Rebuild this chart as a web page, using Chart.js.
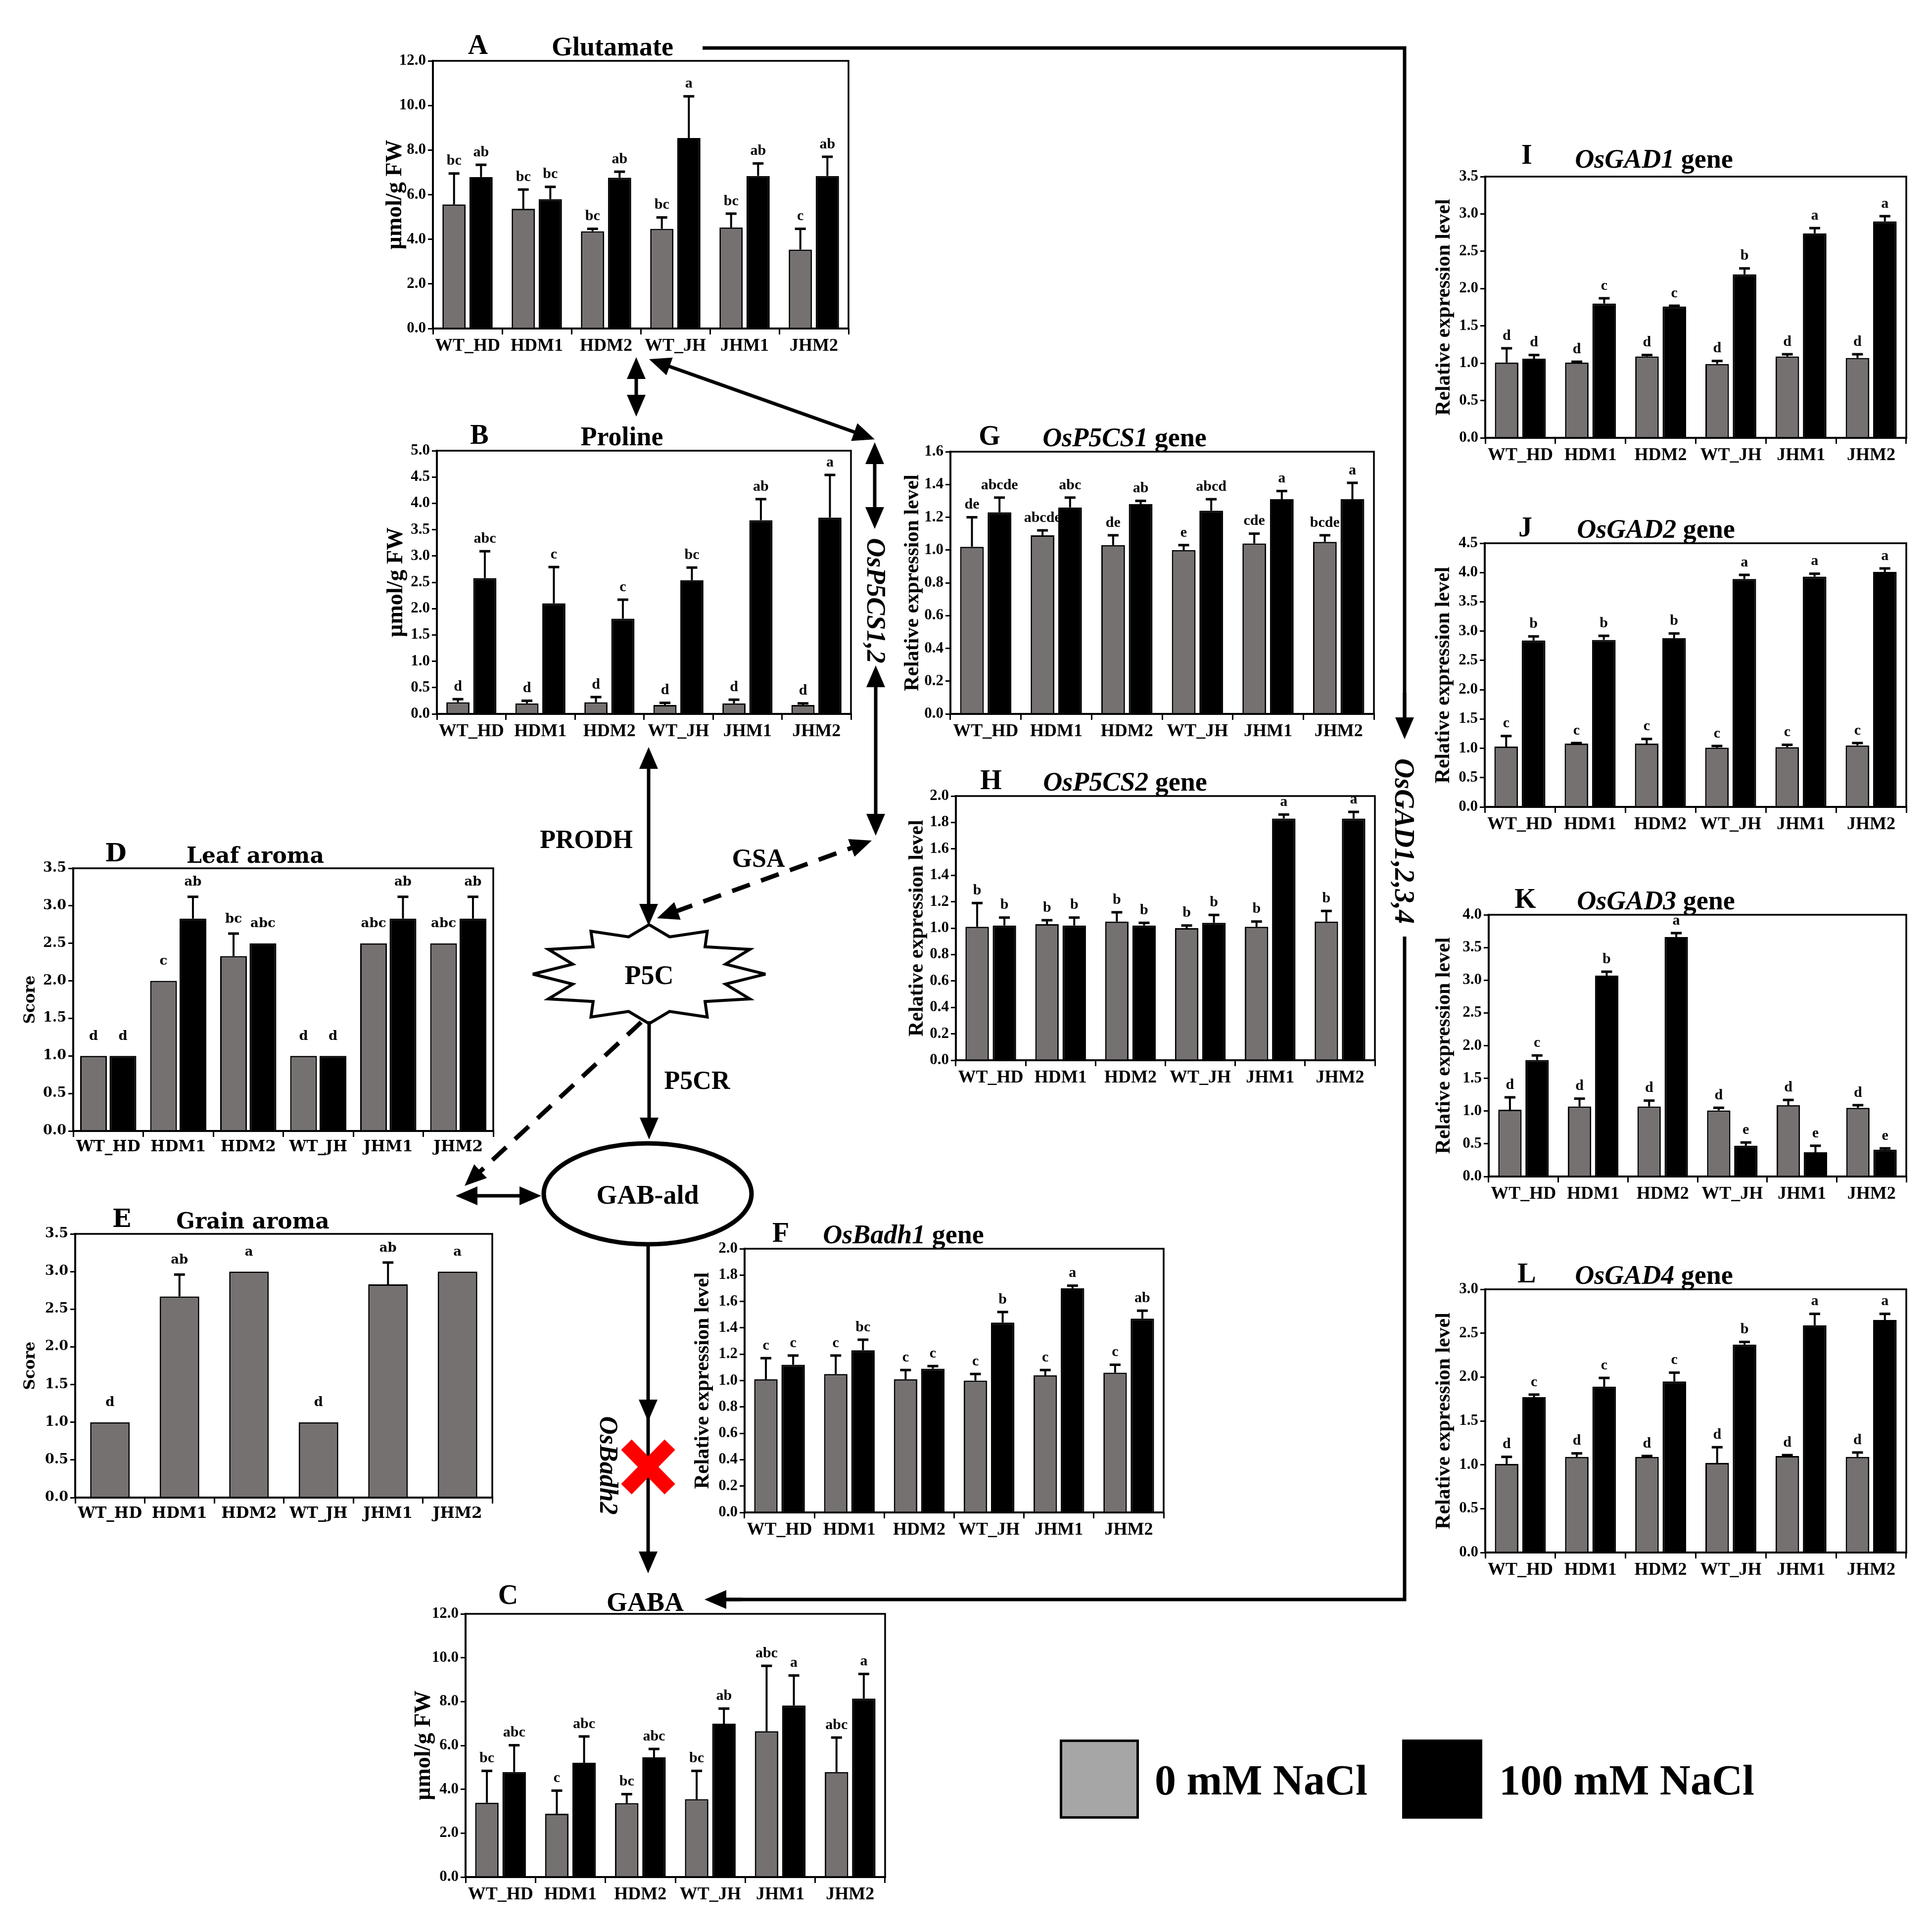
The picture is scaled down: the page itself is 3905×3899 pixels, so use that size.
<!DOCTYPE html>
<html>
<head>
<meta charset="utf-8">
<title>Glutamate / GABA pathway panels</title>
<script src="https://cdn.jsdelivr.net/npm/chart.js@4.4.1/dist/chart.umd.min.js"></script>
<style>
  html, body { margin: 0; padding: 0; background: #fff; }
  #page { position: relative; width: 3905px; height: 3899px; overflow: hidden; background: #fff; }
  #page canvas { position: absolute; }
  #diagram { position: absolute; left: 0; top: 0; }
  .legend-box { position: absolute; box-sizing: border-box; border: 5px solid #000; }
  .legend-text { position: absolute; font: bold 86px "Liberation Serif", serif; line-height: 100px; white-space: nowrap; }
</style>
</head>
<body>
<div id="page">
  <svg id="diagram" width="3905" height="3899" viewBox="0 0 3905 3899" xmlns="http://www.w3.org/2000/svg">
    <defs>
      <marker id="ah" markerUnits="userSpaceOnUse" markerWidth="46" markerHeight="38" refX="30" refY="19" orient="auto-start-reverse">
        <path d="M0,0 L44,19 L0,38 z" fill="#000"/>
      </marker>
    </defs>
  </svg>
  <div class="legend-box" style="left:2142px;top:3516px;width:160px;height:160px;background:#a6a6a6;"></div>
  <div class="legend-text" style="left:2334px;top:3548px;">0 mM NaCl</div>
  <div class="legend-box" style="left:2834px;top:3516px;width:162px;height:160px;background:#000;"></div>
  <div class="legend-text" style="left:3030px;top:3548px;">100 mM NaCl</div>
</div>
<script>
// ---- data ----
const groups = ['WT_HD', 'HDM1', 'HDM2', 'WT_JH', 'JHM1', 'JHM2'];

// A  Glutamate
const gluCtrl = [5.56, 5.37, 4.36, 4.47, 4.53, 3.54];
const gluSalt = [6.79, 5.80, 6.76, 8.54, 6.84, 6.84];
const gluCtrlErr = [1.39, 0.86, 0.11, 0.51, 0.62, 0.93];
const gluSaltErr = [0.55, 0.55, 0.27, 1.87, 0.56, 0.86];
const gluCtrlSig = ['bc', 'bc', 'bc', 'bc', 'bc', 'c'];
const gluSaltSig = ['ab', 'bc', 'ab', 'a', 'ab', 'ab'];

// B  Proline
const proCtrl = [0.22, 0.20, 0.22, 0.17, 0.20, 0.17];
const proSalt = [2.58, 2.10, 1.81, 2.54, 3.68, 3.73];
const proCtrlErr = [0.06, 0.05, 0.10, 0.04, 0.07, 0.03];
const proSaltErr = [0.51, 0.69, 0.36, 0.24, 0.40, 0.81];
const proCtrlSig = ['d', 'd', 'd', 'd', 'd', 'd'];
const proSaltSig = ['abc', 'c', 'c', 'bc', 'ab', 'a'];

// C  GABA
const gabaCtrl = [3.39, 2.89, 3.37, 3.55, 6.65, 4.79];
const gabaSalt = [4.79, 5.21, 5.46, 6.99, 7.82, 8.14];
const gabaCtrlErr = [1.45, 1.05, 0.41, 1.29, 2.98, 1.57];
const gabaSaltErr = [1.22, 1.20, 0.38, 0.69, 1.37, 1.12];
const gabaCtrlSig = ['bc', 'c', 'bc', 'bc', 'abc', 'abc'];
const gabaSaltSig = ['abc', 'abc', 'abc', 'ab', 'a', 'a'];

// D  Leaf aroma
const leafCtrl = [1.0, 2.0, 2.33, 1.0, 2.5, 2.5];
const leafSalt = [1.0, 2.83, 2.5, 1.0, 2.83, 2.83];
const leafCtrlErr = [0, 0, 0.3, 0, 0, 0];
const leafSaltErr = [0, 0.29, 0, 0, 0.29, 0.29];
const leafCtrlSig = ['d', 'c', 'bc', 'd', 'abc', 'abc'];
const leafSaltSig = ['d', 'ab', 'abc', 'd', 'ab', 'ab'];

// E  Grain aroma (control only)
const grainScore = [1.0, 2.67, 3.0, 1.0, 2.83, 3.0];
const grainErr = [0, 0.29, 0, 0, 0.29, 0];
const grainSig = ['d', 'ab', 'a', 'd', 'ab', 'a'];

// F  OsBadh1
const badhCtrl = [1.01, 1.05, 1.01, 1.00, 1.04, 1.06];
const badhSalt = [1.12, 1.23, 1.09, 1.44, 1.70, 1.47];
const badhCtrlErr = [0.16, 0.14, 0.07, 0.05, 0.04, 0.06];
const badhSaltErr = [0.07, 0.08, 0.02, 0.08, 0.02, 0.06];
const badhCtrlSig = ['c', 'c', 'c', 'c', 'c', 'c'];
const badhSaltSig = ['c', 'bc', 'c', 'b', 'a', 'ab'];

// G  OsP5CS1
const p5cs1Ctrl = [1.02, 1.09, 1.03, 1.00, 1.04, 1.05];
const p5cs1Salt = [1.23, 1.26, 1.28, 1.24, 1.31, 1.31];
const p5cs1CtrlErr = [0.18, 0.03, 0.06, 0.03, 0.06, 0.04];
const p5cs1SaltErr = [0.09, 0.06, 0.02, 0.07, 0.05, 0.10];
const p5cs1CtrlSig = ['de', 'abcde', 'de', 'e', 'cde', 'bcde'];
const p5cs1SaltSig = ['abcde', 'abc', 'ab', 'abcd', 'a', 'a'];

// H  OsP5CS2
const p5cs2Ctrl = [1.01, 1.03, 1.05, 1.00, 1.01, 1.05];
const p5cs2Salt = [1.02, 1.02, 1.02, 1.04, 1.83, 1.83];
const p5cs2CtrlErr = [0.18, 0.03, 0.07, 0.02, 0.04, 0.08];
const p5cs2SaltErr = [0.06, 0.06, 0.02, 0.06, 0.03, 0.05];
const p5cs2CtrlSig = ['b', 'b', 'b', 'b', 'b', 'b'];
const p5cs2SaltSig = ['b', 'b', 'b', 'b', 'a', 'a'];

// I  OsGAD1
const gad1Ctrl = [1.01, 1.01, 1.09, 0.99, 1.09, 1.07];
const gad1Salt = [1.06, 1.80, 1.76, 2.19, 2.74, 2.90];
const gad1CtrlErr = [0.19, 0.01, 0.02, 0.04, 0.03, 0.05];
const gad1SaltErr = [0.05, 0.07, 0.01, 0.08, 0.07, 0.07];
const gad1CtrlSig = ['d', 'd', 'd', 'd', 'd', 'd'];
const gad1SaltSig = ['d', 'c', 'c', 'b', 'a', 'a'];

// J  OsGAD2
const gad2Ctrl = [1.03, 1.08, 1.08, 1.01, 1.02, 1.05];
const gad2Salt = [2.84, 2.85, 2.88, 3.89, 3.93, 4.01];
const gad2CtrlErr = [0.18, 0.01, 0.08, 0.03, 0.04, 0.04];
const gad2SaltErr = [0.07, 0.07, 0.08, 0.07, 0.05, 0.06];
const gad2CtrlSig = ['c', 'c', 'c', 'c', 'c', 'c'];
const gad2SaltSig = ['b', 'b', 'b', 'a', 'a', 'a'];

// K  OsGAD3
const gad3Ctrl = [1.02, 1.07, 1.07, 1.01, 1.09, 1.05];
const gad3Salt = [1.78, 3.07, 3.66, 0.47, 0.37, 0.41];
const gad3CtrlErr = [0.19, 0.12, 0.09, 0.04, 0.08, 0.04];
const gad3SaltErr = [0.07, 0.06, 0.06, 0.05, 0.10, 0.02];
const gad3CtrlSig = ['d', 'd', 'd', 'd', 'd', 'd'];
const gad3SaltSig = ['c', 'b', 'a', 'e', 'e', 'e'];

// L  OsGAD4
const gad4Ctrl = [1.01, 1.09, 1.09, 1.02, 1.10, 1.09];
const gad4Salt = [1.77, 1.89, 1.95, 2.37, 2.59, 2.65];
const gad4CtrlErr = [0.08, 0.04, 0.01, 0.18, 0.01, 0.05];
const gad4SaltErr = [0.03, 0.10, 0.10, 0.03, 0.13, 0.07];
const gad4CtrlSig = ['d', 'd', 'd', 'd', 'd', 'd'];
const gad4SaltSig = ['c', 'c', 'c', 'b', 'a', 'a'];

// ---- styling ----
const GRAY = '#767171';
const TIMES = '"Liberation Serif", "Times New Roman", serif';
const WIDE = '"DejaVu Serif", serif';

const timesFont = { family: TIMES, letter: 56, title: 54, yTick: 31, xTick: 36, sig: 30, sigGap: 10, sigGapNoErr: 12 };
const wideFont = { family: WIDE, letter: 50, title: 44, yTick: 27, xTick: 31, sig: 26, sigGap: 16, sigGapNoErr: 26 };

const REL = 'Relative expression level';
const UMOL = '\u00b5mol/g FW';

const panels = [
  { letter: 'A', title: [['Glutamate', false]], yTitle: UMOL, yTitleSize: 46, yMax: 12, yStep: 2,
    l: 875, t: 123, r: 1715, b: 664, letterX: 91, titleX: 363, yTitleX: 76,
    values: [gluCtrl, gluSalt], errs: [gluCtrlErr, gluSaltErr], sigs: [gluCtrlSig, gluSaltSig] },
  { letter: 'B', title: [['Proline', false]], yTitle: UMOL, yTitleSize: 46, yMax: 5, yStep: 0.5,
    l: 883, t: 911, r: 1720, b: 1443, letterX: 86, titleX: 374, yTitleX: 82,
    values: [proCtrl, proSalt], errs: [proCtrlErr, proSaltErr], sigs: [proCtrlSig, proSaltSig] },
  { letter: 'C', title: [['GABA', false]], yTitle: UMOL, yTitleSize: 46, yMax: 12, yStep: 2,
    l: 941, t: 3262, r: 1789, b: 3794, letterX: 86, titleX: 363, yTitleX: 84, titleGap: 6, letterGap: 20,
    values: [gabaCtrl, gabaSalt], errs: [gabaCtrlErr, gabaSaltErr], sigs: [gabaCtrlSig, gabaSaltSig] },
  { letter: 'D', title: [['Leaf aroma', false]], yTitle: 'Score', yTitleSize: 31, yMax: 3.5, yStep: 0.5, wide: true,
    l: 148, t: 1755, r: 997, b: 2286, letterX: 86, titleX: 368, yTitleX: 86, cat: 0.84, bar: 0.91,
    values: [leafCtrl, leafSalt], errs: [leafCtrlErr, leafSaltErr], sigs: [leafCtrlSig, leafSaltSig] },
  { letter: 'E', title: [['Grain aroma', false]], yTitle: 'Score', yTitleSize: 31, yMax: 3.5, yStep: 0.5, wide: true,
    l: 152, t: 2494, r: 995, b: 3027, letterX: 94, titleX: 359, yTitleX: 90, cat: 0.78, bar: 0.73,
    values: [grainScore], errs: [grainErr], sigs: [grainSig] },
  { letter: 'F', title: [['OsBadh1', true], [' gene', false]], yTitle: REL, yTitleSize: 42, yMax: 2, yStep: 0.2,
    l: 1505, t: 2524, r: 2352, b: 3057, letterX: 73, titleX: 321, yTitleX: 84,
    values: [badhCtrl, badhSalt], errs: [badhCtrlErr, badhSaltErr], sigs: [badhCtrlSig, badhSaltSig] },
  { letter: 'G', title: [['OsP5CS1', true], [' gene', false]], yTitle: REL, yTitleSize: 42, yMax: 1.6, yStep: 0.2,
    l: 1921, t: 913, r: 2777, b: 1443, letterX: 79, titleX: 352, yTitleX: 76,
    values: [p5cs1Ctrl, p5cs1Salt], errs: [p5cs1CtrlErr, p5cs1SaltErr], sigs: [p5cs1CtrlSig, p5cs1SaltSig] },
  { letter: 'H', title: [['OsP5CS2', true], [' gene', false]], yTitle: REL, yTitleSize: 42, yMax: 2, yStep: 0.2,
    l: 1932, t: 1609, r: 2779, b: 2143, letterX: 71, titleX: 342, yTitleX: 78,
    values: [p5cs2Ctrl, p5cs2Salt], errs: [p5cs2CtrlErr, p5cs2SaltErr], sigs: [p5cs2CtrlSig, p5cs2SaltSig] },
  { letter: 'I', title: [['OsGAD1', true], [' gene', false]], yTitle: REL, yTitleSize: 42, yMax: 3.5, yStep: 0.5,
    l: 3002, t: 357, r: 3853, b: 885, letterX: 84, titleX: 341, yTitleX: 83, titleGap: 18, letterGap: 26,
    values: [gad1Ctrl, gad1Salt], errs: [gad1CtrlErr, gad1SaltErr], sigs: [gad1CtrlSig, gad1SaltSig] },
  { letter: 'J', title: [['OsGAD2', true], [' gene', false]], yTitle: REL, yTitleSize: 42, yMax: 4.5, yStep: 0.5,
    l: 3001, t: 1098, r: 3853, b: 1631, letterX: 82, titleX: 346, yTitleX: 83,
    values: [gad2Ctrl, gad2Salt], errs: [gad2CtrlErr, gad2SaltErr], sigs: [gad2CtrlSig, gad2SaltSig] },
  { letter: 'K', title: [['OsGAD3', true], [' gene', false]], yTitle: REL, yTitleSize: 42, yMax: 4, yStep: 0.5,
    l: 3009, t: 1849, r: 3853, b: 2378, letterX: 74, titleX: 338, yTitleX: 90,
    values: [gad3Ctrl, gad3Salt], errs: [gad3CtrlErr, gad3SaltErr], sigs: [gad3CtrlSig, gad3SaltSig] },
  { letter: 'L', title: [['OsGAD4', true], [' gene', false]], yTitle: REL, yTitleSize: 42, yMax: 3, yStep: 0.5,
    l: 3002, t: 2606, r: 3853, b: 3138, letterX: 84, titleX: 341, yTitleX: 83,
    values: [gad4Ctrl, gad4Salt], errs: [gad4CtrlErr, gad4SaltErr], sigs: [gad4CtrlSig, gad4SaltSig] },
];

const page = document.getElementById('page');

// frame, panel letter, title and rotated y title
function decor(p, f) {
  return {
    id: 'decor',
    afterDraw(chart) {
      const ctx = chart.ctx, a = chart.chartArea;
      ctx.save();
      ctx.strokeStyle = '#000';
      ctx.lineWidth = 3.5;
      ctx.beginPath();
      ctx.moveTo(a.left, a.top);
      ctx.lineTo(a.right, a.top);
      ctx.lineTo(a.right, a.bottom);
      ctx.stroke();

      ctx.fillStyle = '#000';
      ctx.textBaseline = 'alphabetic';
      ctx.textAlign = 'center';
      ctx.font = `bold ${f.letter}px ${f.family}`;
      ctx.fillText(p.letter, a.left + p.letterX, a.top - (p.letterGap || 14));

      const widths = p.title.map(([txt, it]) => {
        ctx.font = `${it ? 'italic ' : ''}bold ${f.title}px ${f.family}`;
        return ctx.measureText(txt).width;
      });
      let x = a.left + p.titleX - widths.reduce((s, w) => s + w, 0) / 2;
      ctx.textAlign = 'left';
      p.title.forEach(([txt, it], i) => {
        ctx.font = `${it ? 'italic ' : ''}bold ${f.title}px ${f.family}`;
        ctx.fillText(txt, x, a.top - (p.titleGap || 11));
        x += widths[i];
      });

      ctx.translate(a.left - p.yTitleX, (a.top + a.bottom) / 2);
      ctx.rotate(-Math.PI / 2);
      ctx.textAlign = 'center';
      ctx.textBaseline = 'middle';
      ctx.font = `bold ${p.yTitleSize}px ${f.family}`;
      ctx.fillText(p.yTitle, 0, 0);
      ctx.restore();
    }
  };
}

// upward error bars + significance letters
function errorBars(p, f) {
  return {
    id: 'errorBars',
    afterDatasetsDraw(chart) {
      const ctx = chart.ctx, ys = chart.scales.y;
      ctx.save();
      ctx.strokeStyle = '#000';
      ctx.fillStyle = '#000';
      ctx.font = `bold ${f.sig}px ${f.family}`;
      ctx.textAlign = 'center';
      ctx.textBaseline = 'bottom';
      chart.data.datasets.forEach((ds, i) => {
        chart.getDatasetMeta(i).data.forEach((bar, j) => {
          const e = p.errs[i][j];
          const yTop = ys.getPixelForValue(ds.data[j] + e);
          if (e > 0) {
            ctx.lineWidth = 4;
            ctx.beginPath();
            ctx.moveTo(bar.x, bar.y);
            ctx.lineTo(bar.x, yTop);
            ctx.stroke();
            ctx.lineWidth = 5;
            ctx.beginPath();
            ctx.moveTo(bar.x - 11, yTop);
            ctx.lineTo(bar.x + 11, yTop);
            ctx.stroke();
          }
          ctx.fillText(p.sigs[i][j], bar.x, yTop - (e > 0 ? f.sigGap : f.sigGapNoErr));
        });
      });
      ctx.restore();
    }
  };
}

function buildPanel(p) {
  const f = p.wide ? wideFont : timesFont;
  const padL = 150, padT = 120, padR = 24, padB = 74;
  const cv = document.createElement('canvas');
  cv.width = (p.r - p.l) + padL + padR;
  cv.height = (p.b - p.t) + padT + padB;
  cv.style.left = (p.l - padL) + 'px';
  cv.style.top = (p.t - padT) + 'px';
  page.appendChild(cv);

  new Chart(cv, {
    type: 'bar',
    data: {
      labels: groups,
      datasets: p.values.map((vals, i) => ({
        data: vals,
        backgroundColor: i === 0 ? GRAY : '#000',
        borderColor: '#000',
        borderWidth: 3,
        categoryPercentage: p.cat || 0.78,
        barPercentage: p.bar || 0.86
      }))
    },
    options: {
      responsive: false,
      animation: false,
      devicePixelRatio: 1,
      layout: { padding: { top: padT, right: padR, left: 0, bottom: 0 } },
      plugins: { legend: { display: false }, title: { display: false }, tooltip: { enabled: false } },
      scales: {
        x: {
          afterFit: s => { s.height = padB; },
          grid: { display: true, drawOnChartArea: false, offset: true, tickLength: 12, lineWidth: 3, color: '#000' },
          border: { display: true, color: '#000', width: 4 },
          ticks: { color: '#000', padding: 2, autoSkip: false, maxRotation: 0,
                   font: { family: f.family, size: f.xTick, weight: 'bold' } }
        },
        y: {
          min: 0,
          max: p.yMax,
          afterFit: s => { s.width = padL; },
          grid: { drawOnChartArea: false, tickLength: 10, lineWidth: 3, color: '#000' },
          border: { display: true, color: '#000', width: 4 },
          ticks: { stepSize: p.yStep, autoSkip: false, color: '#000', padding: 4,
                   font: { family: f.family, size: f.yTick, weight: 'bold' },
                   callback: v => Number(v).toFixed(1) }
        }
      }
    },
    plugins: [decor(p, f), errorBars(p, f)]
  });
}

panels.forEach(buildPanel);

// ---- pathway diagram ----
const svg = document.getElementById('diagram');
const NS = 'http://www.w3.org/2000/svg';

function el(tag, attrs, text) {
  const n = document.createElementNS(NS, tag);
  Object.entries(attrs).forEach(([k, v]) => n.setAttribute(k, v));
  if (text) n.textContent = text;
  svg.appendChild(n);
  return n;
}

// straight connector; heads overshoot the endpoints by 14px so the tip lands on the given point
function arrow(x1, y1, x2, y2, opt = {}) {
  const L = Math.hypot(x2 - x1, y2 - y1), ux = (x2 - x1) / L, uy = (y2 - y1) / L;
  const s = opt.start ? 14 : 0, e = opt.end ? 14 : 0;
  const a = { x1: x1 + ux * s, y1: y1 + uy * s, x2: x2 - ux * e, y2: y2 - uy * e,
              stroke: '#000', 'stroke-width': opt.w || 7, fill: 'none' };
  if (opt.dash) a['stroke-dasharray'] = '38 24';
  if (opt.start) a['marker-start'] = 'url(#ah)';
  if (opt.end) a['marker-end'] = 'url(#ah)';
  el('line', a);
}

function label(x, y, txt, size, opt = {}) {
  const a = { x: 0, y: 0, 'font-family': 'Liberation Serif, serif', 'font-weight': 'bold', 'font-size': size,
              'text-anchor': 'middle', 'dominant-baseline': 'central', fill: '#000',
              transform: `translate(${x},${y})${opt.rot ? ' rotate(' + opt.rot + ')' : ''}` };
  if (opt.italic) a['font-style'] = 'italic';
  el('text', a, txt);
}

// glutamate -> GAD genes -> GABA
el('polyline', { points: '1420,97 2839,97 2839,1480', stroke: '#000', 'stroke-width': 7, fill: 'none' });
arrow(2839, 1400, 2839, 1494, { end: true });
label(2839, 1700, 'OsGAD1,2,3,4', 56, { rot: 90, italic: true });
el('polyline', { points: '2839,1893 2839,3233 1440,3233', stroke: '#000', 'stroke-width': 7, fill: 'none' });
arrow(1500, 3233, 1424, 3233, { end: true });

// glutamate <-> proline, glutamate <-> P5CS
arrow(1286, 722, 1286, 842, { start: true, end: true });
arrow(1312, 726, 1768, 888, { start: true, end: true });
arrow(1768, 894, 1768, 1069, { start: true, end: true });
label(1771, 1214, 'OsP5CS1,2', 54, { rot: 90, italic: true });
arrow(1770, 1345, 1770, 1689, { start: true, end: true });

// proline <-> P5C, GSA
arrow(1311, 1510, 1311, 1871, { start: true, end: true });
label(1185, 1696, 'PRODH', 52);
arrow(1762, 1699, 1328, 1856, { start: true, end: true, dash: true, w: 9 });
label(1533, 1734, 'GSA', 52);

// P5C star
const starPts = [];
for (let k = 0; k < 24; k++) {
  const ang = -Math.PI / 2 + k * Math.PI / 12;
  const rx = k % 2 === 0 ? 235 : 160, ry = k % 2 === 0 ? 100 : 78;
  starPts.push((1312 + rx * Math.cos(ang)).toFixed(1) + ',' + (1969 + ry * Math.sin(ang)).toFixed(1));
}
el('polygon', { points: starPts.join(' '), fill: '#fff', stroke: '#000', 'stroke-width': 6, 'stroke-linejoin': 'miter' });
label(1312, 1971, 'P5C', 54);

// P5C -> GAB-ald
arrow(1312, 2064, 1312, 2303, { end: true });
label(1409, 2183, 'P5CR', 52);
arrow(1296, 2066, 939, 2397, { end: true, dash: true, w: 9 });

el('ellipse', { cx: 1309, cy: 2413, rx: 210, ry: 102, fill: '#fff', stroke: '#000', 'stroke-width': 9 });
label(1309, 2415, 'GAB-ald', 54);
arrow(921, 2417, 1094, 2417, { start: true, end: true });

// GAB-ald -> GABA through OsBadh2 (knocked out)
arrow(1310, 2516, 1310, 2873, { end: true });
arrow(1310, 2860, 1310, 3180, { end: true });
el('line', { x1: 1266, y1: 2920, x2: 1354, y2: 3010, stroke: '#ff0000', 'stroke-width': 30 });
el('line', { x1: 1354, y1: 2920, x2: 1266, y2: 3010, stroke: '#ff0000', 'stroke-width': 30 });
label(1230, 2962, 'OsBadh2', 52, { rot: 90, italic: true });
</script>
</body>
</html>
